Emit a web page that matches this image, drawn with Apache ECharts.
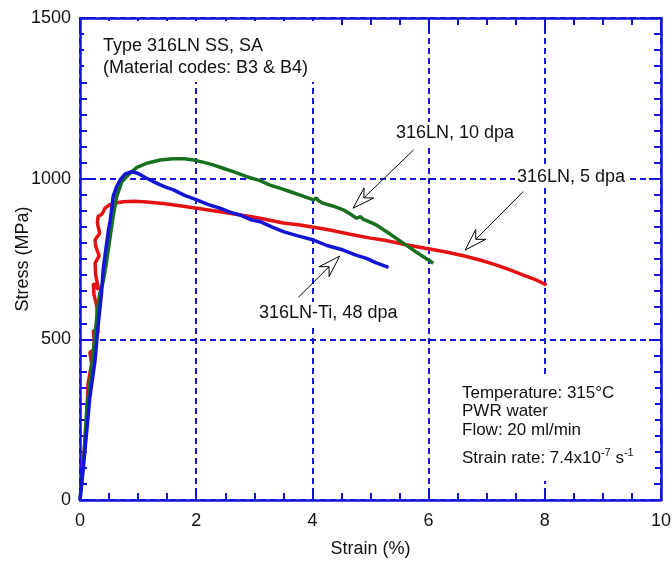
<!DOCTYPE html>
<html>
<head>
<meta charset="utf-8">
<script src="https://cdn.jsdelivr.net/npm/echarts@6/dist/echarts.min.js"></script>
<style>
  html, body { margin: 0; padding: 0; background: #fff; }
  #chart { width: 672px; height: 563px; }
</style>
</head>
<body>
<div id="chart"></div>
<script>
// Axis ticks
const strainTicks = [0, 2, 4, 6, 8, 10];
const stressTicks = [0, 500, 1000, 1500];

// 316LN, 5 dpa
const strain5dpa = [0.05, 0.11, 0.14, 0.20, 0.17, 0.26, 0.23, 0.31, 0.29, 0.24, 0.23, 0.32, 0.27, 0.26, 0.33, 0.27, 0.26, 0.34, 0.30, 0.31, 0.38, 0.43, 0.50, 0.57, 0.63, 0.75, 0.92, 1.10, 1.43, 1.75, 2.01, 2.30, 2.58, 2.93, 3.10, 3.50, 3.79, 4.02, 4.30, 4.65, 5.00, 5.22, 5.68, 6.02, 6.30, 6.60, 6.90, 7.17, 7.40, 7.63, 7.85, 8.03];
const stress5dpa = [100, 240, 363, 425, 460, 467, 529, 520, 602, 640, 674, 655, 700, 737, 760, 790, 810, 830, 860, 882, 890, 908, 918, 923, 925, 928, 930, 928, 923, 915, 908, 900, 892, 882, 877, 862, 856, 849, 840, 827, 815, 809, 792, 781, 772, 760, 746, 731, 716, 700, 685, 669];

// 316LN, 10 dpa
const strain10dpa = [0, 0.06, 0.115, 0.17, 0.23, 0.29, 0.34, 0.40, 0.46, 0.52, 0.57, 0.63, 0.72, 0.85, 0.98, 1.15, 1.38, 1.60, 1.80, 1.95, 2.15, 2.29, 2.50, 2.64, 2.87, 3.10, 3.27, 3.45, 3.61, 3.80, 4.02, 4.07, 4.10, 4.19, 4.35, 4.53, 4.65, 4.76, 4.83, 4.87, 5.10, 5.35, 5.56, 5.80, 6.08];
const stress10dpa = [0, 110, 280, 363, 467, 570, 643, 680, 745, 820, 882, 944, 990, 1015, 1035, 1048, 1058, 1062, 1062, 1058, 1050, 1043, 1030, 1022, 1006, 994, 980, 970, 960, 948, 934, 940, 932, 923, 915, 903, 890, 877, 882, 874, 856, 826, 800, 770, 737];

// 316LN-Ti, 48 dpa
const strain48dpa = [0, 0.086, 0.17, 0.26, 0.31, 0.37, 0.40, 0.43, 0.49, 0.52, 0.57, 0.63, 0.69, 0.78, 0.89, 1.00, 1.13, 1.26, 1.45, 1.61, 1.80, 2.01, 2.20, 2.41, 2.58, 2.75, 2.93, 3.10, 3.30, 3.50, 3.75, 4.02, 4.25, 4.53, 4.75, 4.93, 5.10, 5.31];
const stress48dpa = [0, 156, 320, 436, 539, 643, 720, 760, 840, 870, 944, 975, 996, 1015, 1022, 1016, 1003, 991, 975, 965, 948, 934, 920, 908, 896, 887, 873, 866, 850, 835, 822, 809, 792, 778, 762, 752, 738, 724];

const AXIS_BLUE = '#1212d8';
const FONT = '"Liberation Sans", Arial, Helvetica, sans-serif';

function pairs(xs, ys) { return xs.map((x, i) => [x, ys[i]]); }

const frameLine = { show: true, onZero: false, lineStyle: { color: AXIS_BLUE, width: 2.5 } };
const majorTick = { show: true, inside: true, length: 12, lineStyle: { color: AXIS_BLUE, width: 2 } };
const gridDash = { show: true, lineStyle: { color: AXIS_BLUE, width: 2, type: [6, 4] } };
const plainNumber = v => String(v);

const chart = echarts.init(document.getElementById('chart'), null, { renderer: 'canvas' });

const option = {
  animation: false,
  backgroundColor: '#fff',
  grid: { left: 80, right: 11, top: 18, bottom: 63, containLabel: false, outerBoundsMode: 'none' },
  xAxis: [
    {
      type: 'value', position: 'bottom',
      min: strainTicks[0], max: strainTicks[strainTicks.length - 1], interval: strainTicks[1] - strainTicks[0],
      axisLine: frameLine, axisTick: majorTick,
      minorTick: { show: true, splitNumber: 4, length: 7, lineStyle: { color: AXIS_BLUE, width: 2 } },
      splitLine: gridDash,
      axisLabel: { color: '#111', fontSize: 18, fontFamily: FONT, margin: 12, formatter: plainNumber, showMinLabel: true, showMaxLabel: true, hideOverlap: false },
      name: 'Strain (%)', nameLocation: 'middle', nameGap: 40, nameMoveOverlap: false,
      nameTextStyle: { color: '#111', fontSize: 18, fontFamily: FONT }
    },
    {
      type: 'value', position: 'top',
      min: strainTicks[0], max: strainTicks[strainTicks.length - 1], interval: strainTicks[1] - strainTicks[0],
      axisLine: frameLine, axisTick: majorTick,
      minorTick: { show: true, splitNumber: 4, length: 7, lineStyle: { color: AXIS_BLUE, width: 2 } },
      splitLine: { show: false }, axisLabel: { show: false }
    }
  ],
  yAxis: [
    {
      type: 'value', position: 'left',
      min: stressTicks[0], max: stressTicks[stressTicks.length - 1], interval: stressTicks[1] - stressTicks[0],
      axisLine: frameLine, axisTick: majorTick,
      minorTick: { show: true, splitNumber: 10, length: 7, lineStyle: { color: AXIS_BLUE, width: 2 } },
      splitLine: gridDash,
      axisLabel: { color: '#111', fontSize: 18, fontFamily: FONT, margin: 9, formatter: plainNumber, showMinLabel: true, showMaxLabel: true, hideOverlap: false },
      name: 'Stress (MPa)', nameLocation: 'middle', nameGap: 48, nameRotate: 90, nameMoveOverlap: false,
      nameTextStyle: { color: '#111', fontSize: 18, fontFamily: FONT }
    },
    {
      type: 'value', position: 'right',
      min: stressTicks[0], max: stressTicks[stressTicks.length - 1], interval: stressTicks[1] - stressTicks[0],
      axisLine: frameLine, axisTick: majorTick,
      minorTick: { show: true, splitNumber: 10, length: 7, lineStyle: { color: AXIS_BLUE, width: 2 } },
      splitLine: { show: false }, axisLabel: { show: false }
    }
  ],
  series: [
    {
      name: '316LN, 5 dpa', type: 'line', xAxisIndex: 0, yAxisIndex: 0,
      data: pairs(strain5dpa, stress5dpa), symbol: 'none', smooth: false,
      lineStyle: { color: '#e41212', width: 3.5 }, z: 3
    },
    {
      name: '316LN, 10 dpa', type: 'line', xAxisIndex: 0, yAxisIndex: 0,
      data: pairs(strain10dpa, stress10dpa), symbol: 'none', smooth: false,
      lineStyle: { color: '#16701e', width: 3.5 }, z: 4
    },
    {
      name: '316LN-Ti, 48 dpa', type: 'line', xAxisIndex: 0, yAxisIndex: 0,
      data: pairs(strain48dpa, stress48dpa), symbol: 'none', smooth: false,
      lineStyle: { color: '#1414d6', width: 3.5 }, z: 5
    }
  ]
};

chart.setOption(option);

// Annotation arrows: tail and tip in data units (strain %, stress MPa)
const arrows = [
  { tail: [5.74, 1089], tip: [4.70, 908] },
  { tail: [7.63, 960], tip: [6.63, 778] },
  { tail: [3.76, 631], tip: [4.47, 759] }
];

function arrowElements(tailData, tipData) {
  const tail = chart.convertToPixel({ xAxisIndex: 0, yAxisIndex: 0 }, tailData);
  const tip = chart.convertToPixel({ xAxisIndex: 0, yAxisIndex: 0 }, tipData);
  const dx = tip[0] - tail[0], dy = tip[1] - tail[1];
  const len = Math.hypot(dx, dy);
  const ux = dx / len, uy = dy / len, nx = -uy, ny = ux;
  const L = 22, W = 7, N = 15;
  const back = [tip[0] - ux * L, tip[1] - uy * L];
  const wingA = [back[0] + nx * W, back[1] + ny * W];
  const wingB = [back[0] - nx * W, back[1] - ny * W];
  const notch = [tip[0] - ux * N, tip[1] - uy * N];
  return [
    { type: 'line', z: 110, shape: { x1: tail[0], y1: tail[1], x2: notch[0], y2: notch[1] }, style: { stroke: '#000', lineWidth: 1 } },
    { type: 'polygon', z: 111, shape: { points: [tip, wingA, notch, wingB] }, style: { fill: '#fff', stroke: '#000', lineWidth: 1 } }
  ];
}

function label(text, x, y, size) {
  return {
    type: 'text', z: 120, x: x, y: y,
    style: {
      text: text, fill: '#111', fontSize: size, fontFamily: FONT,
      textVerticalAlign: 'middle', verticalAlign: 'middle', textAlign: 'left', align: 'left',
      backgroundColor: '#fff', padding: [2, 2, 2, 2]
    }
  };
}

const graphics = [
  // white panels behind the note blocks
  { type: 'rect', z: 100, shape: { x: 84, y: 21, width: 248, height: 61 }, style: { fill: '#fff' } },
  { type: 'rect', z: 100, shape: { x: 447, y: 377, width: 208, height: 104 }, style: { fill: '#fff' } },
  label('Type 316LN SS, SA', 101, 46, 18),
  label('(Material codes: B3 & B4)', 101, 68.5, 18),
  label('316LN, 10 dpa', 394, 133, 18),
  label('316LN, 5 dpa', 515, 177, 18),
  label('316LN-Ti, 48 dpa', 257, 313, 18),
  label('Temperature: 315°C', 460, 393.5, 17),
  label('PWR water', 460, 411.5, 17),
  label('Flow: 20 ml/min', 460, 430, 17),
  {
    type: 'text', z: 120, x: 462, y: 458.5,
    style: {
      text: 'Strain rate: 7.4x10{sup|-7} s{sup|-1}',
      fill: '#111', fontSize: 17, fontFamily: FONT,
      textVerticalAlign: 'middle', verticalAlign: 'middle', lineHeight: 22,
      rich: { sup: { fontSize: 11, fontFamily: FONT, fill: '#111', verticalAlign: 'top', lineHeight: 22, padding: [0, 0, 8, 0] } }
    }
  }
];
arrows.forEach(a => graphics.push(...arrowElements(a.tail, a.tip)));

chart.setOption({ graphic: { elements: graphics } });
</script>
</body>
</html>
